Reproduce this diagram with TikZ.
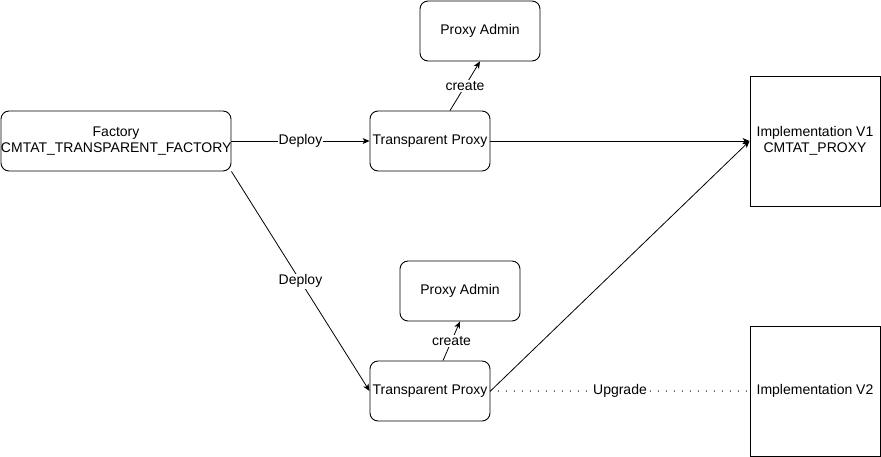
\documentclass[tikz,border=0pt]{standalone}
\usepackage{fontspec}
\setmainfont{Liberation Sans}
\usetikzlibrary{arrows.meta,calc}
\begin{document}
\begin{tikzpicture}[x=1pt,y=-1pt,
  every node/.style={font=\fontsize{14}{16}\selectfont},
  rbox/.style={draw,line width=0.9pt,rounded corners=8pt,minimum width=120pt,minimum height=60pt,align=center,inner sep=0pt},
  sbox/.style={draw,line width=0.9pt,minimum width=130pt,minimum height=130pt,align=center,inner sep=0pt},
  conn/.style={line width=0.8pt,-{Stealth[length=7pt,width=6pt,inset=2pt]}},
  lbl/.style={fill=white,inner sep=1pt},
  dotline/.style={line width=1.4pt,line cap=round,dash pattern=on 0pt off 8pt}]
\useasboundingbox (0,0) rectangle (881,456);
\node[rbox,minimum width=230pt,text width=230pt] (fac) at (116,141) {Factory\\CMTAT\_TRANSPARENT\_FACTORY};
\node[rbox] (tp1) at (430,141) {Transparent Proxy};
\node[rbox] (pa1) at (480,31) {Proxy Admin};
\node[sbox] (v1) at (815,141) {Implementation V1\\CMTAT\_PROXY};
\node[rbox] (pa2) at (460,291) {Proxy Admin};
\node[rbox] (tp2) at (430,391) {Transparent Proxy};
\node[sbox] (v2) at (815,391) {Implementation V2};
\draw[conn] (fac.east) -- node[lbl] {Deploy} (tp1.west);
\draw[conn] (fac.south east) -- node[lbl] {Deploy} (tp2.west);
\draw[conn] ([xshift=20pt]tp1.north) -- node[lbl] {create} (pa1.south);
\draw[conn] ([xshift=13pt]tp2.north) -- node[lbl] {create} (pa2.south);
\draw[conn] (tp1.east) -- (v1.west);
\draw[conn] (tp2.east) -- (v1.west);
\draw[dotline] (tp2.east) -- node[lbl] {Upgrade} (v2.west);
\end{tikzpicture}
\end{document}
